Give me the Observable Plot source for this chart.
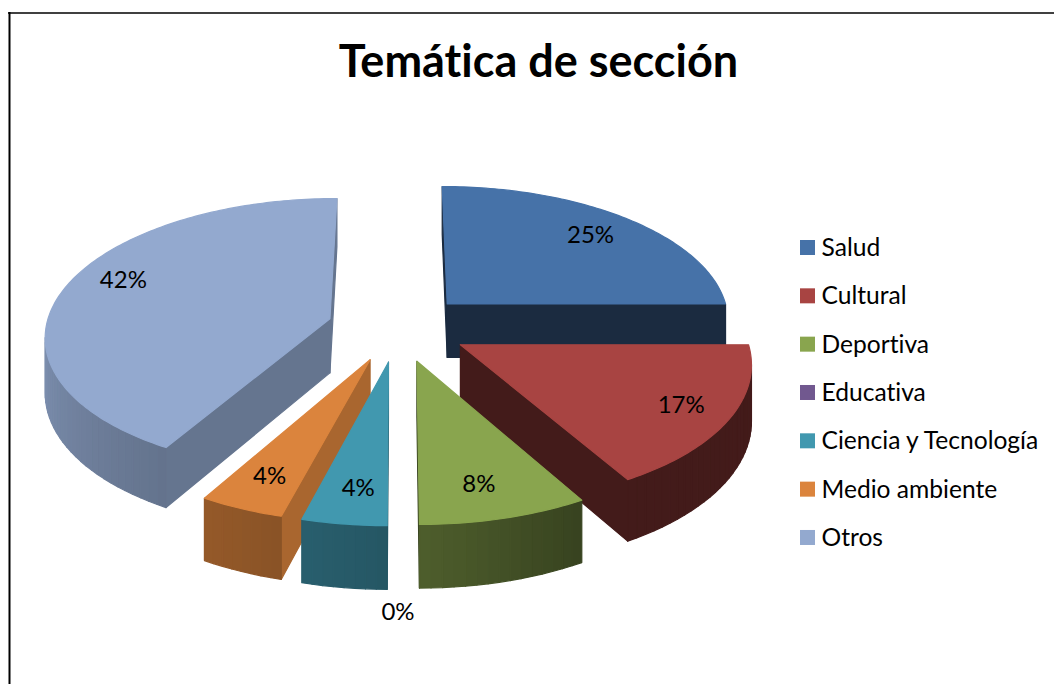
<!DOCTYPE html>
<html><head><meta charset="utf-8">
<script src="https://cdn.jsdelivr.net/npm/d3@7"></script>
<script src="https://cdn.jsdelivr.net/npm/@observablehq/plot@0.6"></script>
<style>html,body{margin:0;padding:0;background:#fff}svg{display:block}svg text{font-variant-ligatures:none;font-feature-settings:"liga" 0}</style>
</head><body><div id="chart"></div>
<script>
const categories = ["Salud","Cultural","Deportiva","Educativa","Ciencia y Tecnología","Medio ambiente","Otros"];
const counts = [6,4,2,0,1,1,10];
const colors = ["#4672A8","#A84442","#89A54E","#71588F","#4198AF","#DB843D","#93A9CF"];
const radialShade = [0.38,0.40,0.40,0.5,0.55,0.77,0.69];
const labelRadius = [0.79,0.83,0.80,1.44,0.80,0.80,0.82];
const labelTurn = [0,0,1.5,0,-1,0,6];
const chartTitle = "Temática de sección";

// projection of the exploded, tilted pie
const W=1054,H=684,cx=397.5,cy=327,ax=284,az=136,persp=0.115,depth=54.5,explode=0.25;
const total=d3.sum(counts);
const rad=d=>d*Math.PI/180;
function project(theta,r,mid,h){
  const X=r*Math.sin(rad(theta))+explode*Math.sin(rad(mid));
  const Z=-r*Math.cos(rad(theta))-explode*Math.cos(rad(mid));
  const w=1/(1-persp*Z);
  return [cx+ax*X*w, cy+(az*Z+depth*h)*w];
}
const area=p=>d3.sum(p,(q,i)=>{const n=p[(i+1)%p.length];return q[0]*n[1]-n[0]*q[1];});
const shadeOuter=d3.scaleLinear().domain([0,150,180,210,270,360]).range([0.4,0.4,0.57,0.68,0.87,0.87]);
const darken=(c,k)=>{const q=d3.rgb(c);return d3.rgb(q.r*k,q.g*k,q.b*k).formatHex();};

let a0=0;
const slices=categories.map((name,i)=>{
  const a=a0,b=a0+counts[i]/total*360;a0=b;
  return {name,i,a,b,mid:(a+b)/2,color:colors[i],count:counts[i]};
});
const order=slices.filter(s=>s.count>0).sort((p,q)=>{
  const z=s=>-Math.cos(rad(s.mid));return z(p)-z(q);
});
const polys=[];let pid=0;
function addPoly(pts,fill){const id=pid++;[...pts,pts[0]].forEach(([x,y])=>polys.push({x,y,id,fill}));}
for(const s of order){
  const radial=(t,sign)=>{
    const p=[project(t,0,s.mid,0),project(t,1,s.mid,0),project(t,1,s.mid,1),project(t,0,s.mid,1)];
    if(area(p)*sign>0) addPoly(p,darken(s.color,radialShade[s.i]));
  };
  radial(s.a,-1);radial(s.b,1);
  const step=(s.b-s.a)/Math.ceil((s.b-s.a)/2);
  for(let t=s.a;t<s.b-1e-6;t+=step){
    const p=[project(t,1,s.mid,0),project(t+step,1,s.mid,0),project(t+step,1,s.mid,1),project(t,1,s.mid,1)];
    if(area(p)<0) addPoly(p,darken(s.color,shadeOuter(t+step/2)));
  }
  const top=[project(s.a,0,s.mid,0)];
  for(let t=s.a;t<=s.b+1e-6;t+=1) top.push(project(t,1,s.mid,0));
  addPoly(top,s.color);
}
const labels=slices.map(s=>{
  const [x,y]=project(s.mid+labelTurn[s.i],labelRadius[s.i],s.mid,0);
  return {x,y,text:Math.round(s.count/total*100)+"%"};
});
const legendY=i=>247.5+48.33*i;
const legend=categories.map((name,i)=>({name,y:legendY(i),color:colors[i]}));

const fonts="Lato, 'Open Sans', sans-serif";
const chart=Plot.plot({
  width:W,height:H,margin:0,
  style:{background:"#fff",fontFamily:fonts},
  x:{domain:[0,W],range:[0,W],axis:null},
  y:{domain:[0,H],range:[0,H],axis:null},
  color:{type:"identity"},
  marks:[
    Plot.ruleX([9],{y1:12,y2:H,stroke:"#000",strokeWidth:2}),
    Plot.ruleY([12.5],{x1:8,x2:W,stroke:"#000",strokeWidth:1.5}),
    Plot.line(polys,{x:"x",y:"y",z:"id",fill:"fill",stroke:"fill",strokeWidth:1.2,strokeLinejoin:"round",curve:"linear"}),
    Plot.text(labels,{x:"x",y:"y",text:"text",fontSize:24,fill:"#000"}),
    Plot.rect(legend,{x1:()=>800,x2:()=>815,y1:d=>d.y-7.5,y2:d=>d.y+7.5,fill:"color"}),
    Plot.text(legend,{x:()=>821,y:"y",text:"name",textAnchor:"start",fontSize:24.6,fill:"#000"}),
    Plot.text([chartTitle],{x:()=>538,y:()=>62,text:d=>d,fontSize:45,fontWeight:"bold",fill:"#000"})
  ]
});
document.getElementById("chart").append(chart);
</script></body></html>
